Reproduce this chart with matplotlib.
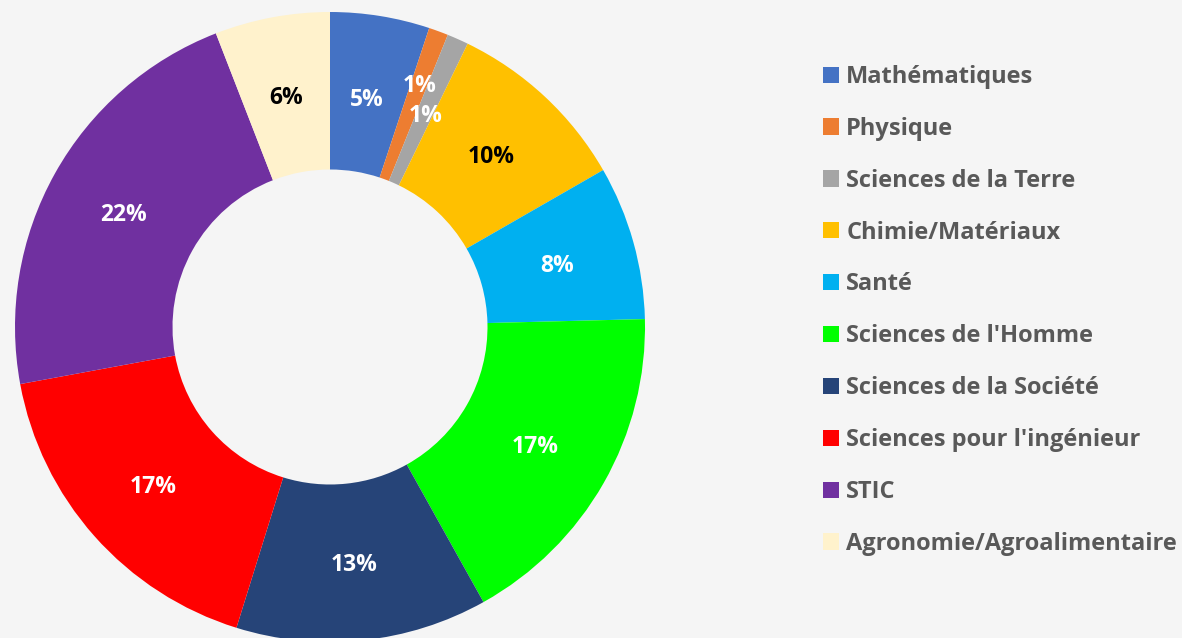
import matplotlib
matplotlib.use("Agg")
import matplotlib.pyplot as plt
from matplotlib.patches import Patch
import numpy as np

categories = ["Mathématiques", "Physique", "Sciences de la Terre", "Chimie/Matériaux",
              "Santé", "Sciences de l'Homme", "Sciences de la Société",
              "Sciences pour l'ingénieur", "STIC", "Agronomie/Agroalimentaire"]
values = [5.1, 1.0, 1.1, 9.5, 7.9, 17.3, 12.9, 17.3, 22.0, 5.9]
pct_labels = ["5%", "1%", "1%", "10%", "8%", "17%", "13%", "17%", "22%", "6%"]
colors = ["#4472C4", "#ED7D31", "#A5A5A5", "#FFC000", "#00B0F0", "#00FF00",
          "#264478", "#FF0000", "#7030A0", "#FFF2CC"]
label_colors = ["white", "white", "white", "black", "white", "white",
                "white", "white", "white", "black"]
label_radius = [0.74, 0.825, 0.745, 0.75, 0.75, 0.75, 0.75, 0.75, 0.75, 0.75]

BG = "#F5F5F5"
plt.rcParams['font.family'] = ['Open Sans', 'DejaVu Sans']

W, H = 1182, 638
fig = plt.figure(figsize=(W / 100, H / 100), dpi=100, facecolor=BG)
cx, cy, R = 330, 638 - 327, 315
ax = fig.add_axes([(cx - R) / W, (cy - R) / H, 2 * R / W, 2 * R / H])
ax.set_facecolor(BG)

wedges, _ = ax.pie(values, colors=colors, startangle=90, counterclock=False,
                   radius=1.0, wedgeprops=dict(width=0.5, edgecolor='none'))
ax.set_xlim(-1, 1)
ax.set_ylim(-1, 1)
ax.set_aspect('equal')
ax.axis('off')

for w, lab, c, r in zip(wedges, pct_labels, label_colors, label_radius):
    ang = np.deg2rad((w.theta1 + w.theta2) / 2)
    ax.text(r * np.cos(ang), r * np.sin(ang), lab, ha='center',
            va='center_baseline', color=c, fontsize=16.5, fontweight='bold')

handles = [Patch(facecolor=c, edgecolor='none') for c in colors]
fig.legend(handles, categories, loc='upper left',
           bbox_to_anchor=(823 / W, 1 - 65 / H), frameon=False,
           handlelength=0.68, handleheight=0.68,
           handletextpad=0.3, labelspacing=1.18, borderpad=0, borderaxespad=0,
           labelcolor="#595959", prop=dict(weight='bold', size=17))

fig.savefig("out.png", dpi=100, facecolor=BG)
